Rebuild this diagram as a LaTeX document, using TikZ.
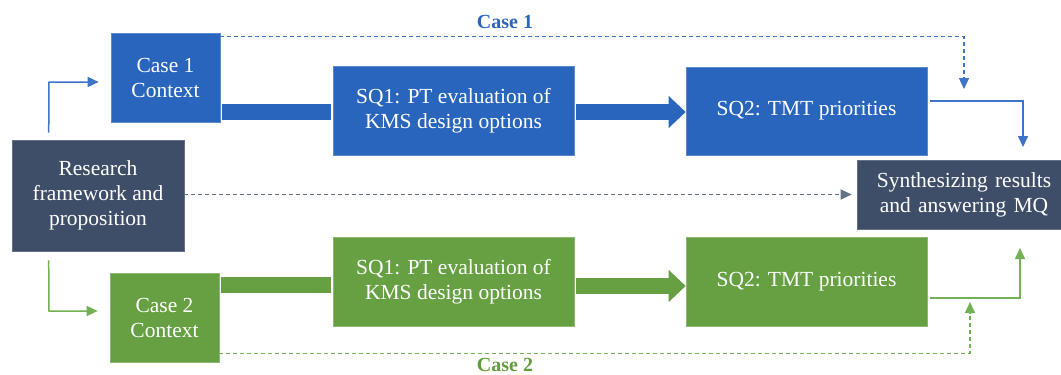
\documentclass[tikz,border=0pt]{standalone}
\usepackage{fontspec}
\setmainfont{Liberation Serif}
\usetikzlibrary{arrows.meta,calc}
\definecolor{boxblue}{RGB}{41,101,189}
\definecolor{boxnavy}{RGB}{63,78,104}
\definecolor{boxgreen}{RGB}{103,160,67}
\definecolor{lineblue}{RGB}{62,116,200}
\definecolor{linegreen}{RGB}{116,176,84}
\definecolor{lblblue}{RGB}{43,101,188}
\definecolor{lblgreen}{RGB}{98,156,60}
\begin{document}
\begin{tikzpicture}[x=1pt,y=-1pt,
  boxbase/.style={rectangle,inner sep=0pt,align=center,text=white,
    font=\fontsize{21.5}{25}\selectfont},
  bluebox/.style={boxbase,fill=boxblue,draw=boxblue!75!white,line width=0.6pt},
  greenbox/.style={boxbase,fill=boxgreen,draw=boxgreen!75!white,line width=0.6pt},
  navybox/.style={boxbase,fill=boxnavy,draw=boxnavy!80!white,line width=0.6pt},
  thinb/.style={draw=lineblue,line width=1.5pt},
  thing/.style={draw=linegreen,line width=1.5pt},
  tip/.style={-{Triangle[length=11pt,width=10pt]}},
  dsh/.style={dash pattern=on 4pt off 3pt},
  bigbar/.style={line width=16pt,shorten <=2pt,shorten >=2pt},
  bigarrow/.style={line width=16pt,shorten <=2pt,-{Triangle[length=17pt,width=31pt]}},
  caselbl/.style={font=\fontsize{20}{24}\selectfont\bfseries,inner sep=0pt,anchor=base}]
\useasboundingbox (0,0) rectangle (1061,375);
% boxes
\node[navybox,minimum width=172pt,minimum height=111pt] (research) at (98,195.5) {Research\\framework and\\proposition};
\node[bluebox,minimum width=109pt,minimum height=89pt] (case1) at (165.5,77.5) {Case 1\\Context};
\node[greenbox,minimum width=109pt,minimum height=89pt] (case2) at (164.5,317.5) {Case 2\\Context};
\node[bluebox,minimum width=241pt,minimum height=89pt] (sq1a) at (453.5,110.5) {SQ1: PT evaluation of\\KMS design options};
\node[bluebox,minimum width=241pt,minimum height=88pt] (sq2a) at (806.5,111) {SQ2: TMT priorities};
\node[greenbox,minimum width=241pt,minimum height=89pt] (sq1b) at (453.5,281.5) {SQ1: PT evaluation of\\KMS design options};
\node[greenbox,minimum width=241pt,minimum height=89pt] (sq2b) at (806.5,281.5) {SQ2: TMT priorities};
\node[navybox,minimum width=214pt,minimum height=69pt,text width=214pt] (synth) at (964,194.5) {Synthesizing results\\and answering MQ};
% labels
\node[caselbl,text=lblblue] (lbl1) at (505,28) {Case 1};
\node[caselbl,text=lblgreen] (lbl2) at (505,371) {Case 2};
% free-end coordinates
\coordinate (c1up) at (49,82);
\coordinate (c2dn) at (49,311);
\coordinate (d1end) at (964,89);
\coordinate (d2end) at (970,302);
\coordinate (s1end) at (1023,147);
\coordinate (s2end) at (1020,248);
% research to cases
\draw[thinb,tip] ([xshift=37pt,yshift=7pt]research.north west) -- (c1up) -- ([xshift=-12pt]case1.west |- c1up);
\draw[thing,tip] ([xshift=37pt,yshift=-9pt]research.south west) -- (c2dn) -- ([xshift=-12pt]case2.west |- c2dn);
% thick bars and arrows
\draw[boxblue,bigbar] (case1.east |- 0,112) -- (sq1a.west |- 0,112);
\draw[boxblue,bigarrow] (sq1a.east |- 0,112) -- (sq2a.west |- 0,112);
\draw[boxgreen,bigbar] (case2.east |- 0,285) -- (sq1b.west |- 0,285);
\draw[boxgreen,bigarrow] (sq1b.east |- 0,286) -- (sq2b.west |- 0,286);
% to synthesis
\draw[thinb,tip] ([xshift=3pt]sq2a.east |- 0,101) -| (s1end);
\draw[thing,tip] ([xshift=3pt]sq2b.east |- 0,298) -| (s2end);
% dashed
\draw[thinb,dsh,tip] ([yshift=-4pt]case1.north east) -| (d1end);
\draw[thing,dsh,tip] ([yshift=9pt]case2.south east) -| (d2end);
\draw[draw=boxnavy!80!white,line width=1.3pt,dsh,-{Triangle[length=11pt,width=10pt]}] (research.east |- synth.west) -- ([xshift=-5pt]synth.west);
\end{tikzpicture}
\end{document}
